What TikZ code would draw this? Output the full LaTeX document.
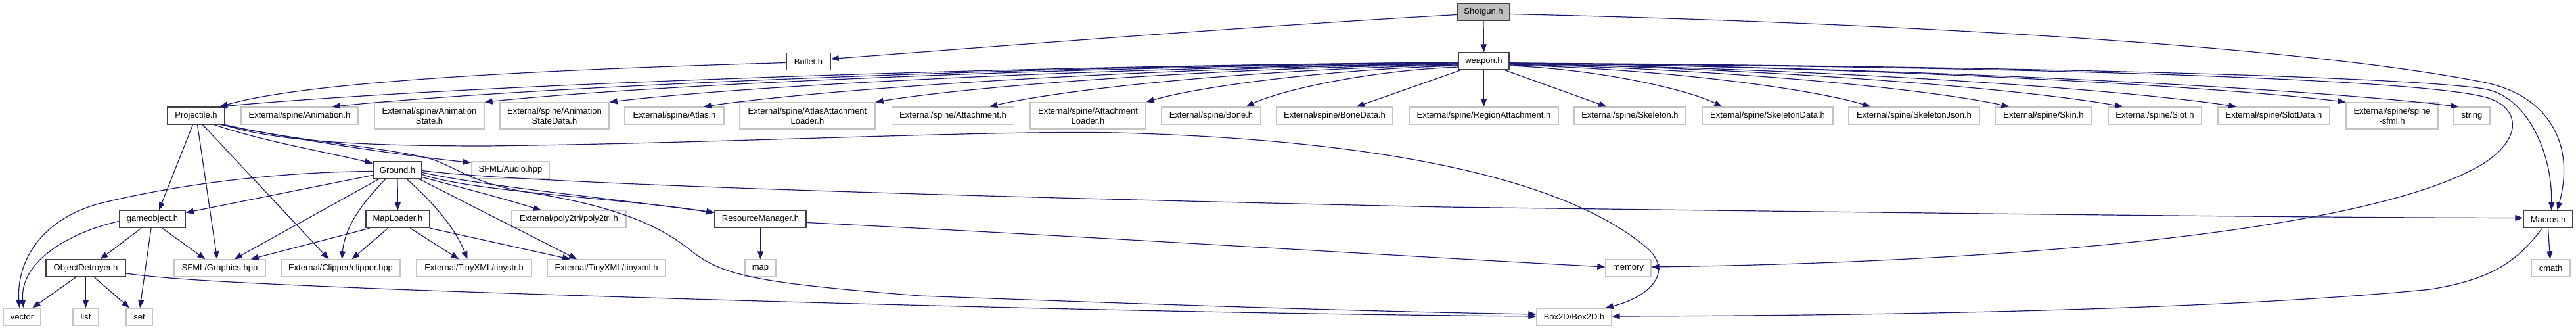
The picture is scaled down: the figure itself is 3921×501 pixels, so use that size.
\documentclass[tikz,border=0pt]{standalone}
\usepackage{fontspec}
\setmainfont{Liberation Sans}
\usetikzlibrary{arrows.meta}
\definecolor{edgeblue}{HTML}{191970}
\definecolor{docborder}{HTML}{404040}
\definecolor{extborder}{HTML}{C4C4C4}
\definecolor{rootfill}{HTML}{BFBFBF}
\tikzset{
  box/.style={rectangle, inner sep=0pt, font=\fontsize{13}{15}\selectfont, align=center, minimum height=26pt, line width=1.4pt},
  doc/.style={box, draw=docborder, fill=white},
  ext/.style={box, draw=extborder, fill=white},
  two/.style={minimum height=40pt},
  dep/.style={draw=edgeblue, line width=1.2pt, -{Triangle[length=12pt,width=9pt]}},
}
\begin{document}
\begin{tikzpicture}[x=1pt,y=-1pt]
\useasboundingbox (0,0) rectangle (3921,501);
% row 0
\node[doc, fill=rootfill, minimum width=80pt] (Shotgun) at (2258,18.5) {Shotgun.h};
% row 1
\node[doc, minimum width=67pt] (Bullet) at (1230.5,93.5) {Bullet.h};
\node[doc, minimum width=77pt] (weapon) at (2258.5,93) {weapon.h};
% row 2
\node[doc, minimum width=87pt] (Projectile) at (298.5,176) {Projectile.h};
\node[ext, minimum width=178pt] (Anim) at (456,176) {External/spine/Animation.h};
\node[ext, two, minimum width=167pt] (AnimState) at (653.5,176) {External/spine/Animation\\State.h};
\node[ext, two, minimum width=166pt] (AnimStateData) at (844,176) {External/spine/Animation\\StateData.h};
\node[ext, minimum width=151pt] (Atlas) at (1026.5,176) {External/spine/Atlas.h};
\node[ext, two, minimum width=206pt] (AtlasAttLoader) at (1229,176) {External/spine/AtlasAttachment\\Loader.h};
\node[ext, minimum width=186pt] (Attachment) at (1450.5,176) {External/spine/Attachment.h};
\node[ext, two, minimum width=176pt] (AttLoader) at (1656,176) {External/spine/Attachment\\Loader.h};
\node[ext, minimum width=151pt] (Bone) at (1843.5,176) {External/spine/Bone.h};
\node[ext, minimum width=177pt] (BoneData) at (2031.5,176) {External/spine/BoneData.h};
\node[ext, minimum width=227pt] (RegionAtt) at (2258.5,176) {External/spine/RegionAttachment.h};
\node[ext, minimum width=170pt] (Skeleton) at (2481,176) {External/spine/Skeleton.h};
\node[ext, minimum width=199pt] (SkeletonData) at (2690.5,176) {External/spine/SkeletonData.h};
\node[ext, minimum width=199pt] (SkeletonJson) at (2913.5,176) {External/spine/SkeletonJson.h};
\node[ext, minimum width=147pt] (Skin) at (3110.5,176) {External/spine/Skin.h};
\node[ext, minimum width=142pt] (Slot) at (3280,176) {External/spine/Slot.h};
\node[ext, minimum width=170pt] (SlotData) at (3461,176) {External/spine/SlotData.h};
\node[ext, two, minimum width=140pt] (spinesfml) at (3641,176) {External/spine/spine\\-sfml.h};
\node[ext, minimum width=55pt] (string) at (3762.5,176) {string};
% row 3
\node[doc, minimum width=74pt] (Ground) at (605,258.5) {Ground.h};
\node[ext, minimum width=119pt] (Audio) at (777,258.5) {SFML/Audio.hpp};
% row 4
\node[doc, minimum width=100pt] (gameobject) at (232,333.5) {gameobject.h};
\node[doc, minimum width=97pt] (MapLoader) at (605.5,333.5) {MapLoader.h};
\node[ext, minimum width=174pt] (poly2tri) at (866,333.5) {External/poly2tri/poly2tri.h};
\node[doc, minimum width=139pt] (ResourceManager) at (1157.5,333.5) {ResourceManager.h};
\node[doc, minimum width=75pt] (Macros) at (3878.5,333.5) {Macros.h};
% row 5
\node[doc, minimum width=121pt] (ObjectDetroyer) at (130.5,408) {ObjectDetroyer.h};
\node[ext, minimum width=139pt] (Graphics) at (334.5,408) {SFML/Graphics.hpp};
\node[ext, minimum width=181pt] (clipper) at (518.5,408) {External/Clipper/clipper.hpp};
\node[ext, minimum width=175pt] (tinystr) at (721.5,408) {External/TinyXML/tinystr.h};
\node[ext, minimum width=180pt] (tinyxml) at (923,408) {External/TinyXML/tinyxml.h};
\node[ext, minimum width=47pt] (map) at (1157.5,408) {map};
\node[ext, minimum width=69pt] (memory) at (2478.5,408) {memory};
\node[ext, minimum width=59pt] (cmath) at (3882.5,408) {cmath};
% row 6
\node[ext, minimum width=57pt] (vector) at (33.5,482) {vector};
\node[ext, minimum width=39pt] (list) at (130.5,482) {list};
\node[ext, minimum width=40pt] (set) at (212,482) {set};
\node[ext, minimum width=114pt] (Box2D) at (2396,482) {Box2D/Box2D.h};

% ---- Shotgun.h
\draw[dep] (Shotgun.south) -- (weapon.north);
\draw[dep] ([yshift=-4pt]Shotgun.west) .. controls (1900,40) and (1500,72) .. ([yshift=4pt]Bullet.east);
\draw[dep] ([yshift=-3pt]Shotgun.east) .. controls (2900,35) and (3500,70) .. (3780,125) .. controls (3880,145) and (3920,220) .. ([xshift=14pt]Macros.north);
% ---- Bullet.h
\draw[dep] ([yshift=-2pt]Bullet.west) .. controls (900,104) and (480,120) .. ([xshift=-8pt]Projectile.north east);
% ---- weapon.h, left fan
\draw[dep] ([yshift=-2pt]weapon.west) .. controls (1371,102) and (616,136) .. ([xshift=-9pt]Projectile.north east);
\draw[dep] ([yshift=-2pt]weapon.west) .. controls (1448,102) and (762,136) .. ([xshift=-40pt]Anim.north east);
\draw[dep] ([yshift=-3pt]weapon.west) .. controls (1553,102) and (959,132) .. (AnimState.north east);
\draw[dep] ([yshift=-4pt]weapon.west) .. controls (1638,103) and (1121,132) .. (AnimStateData.north east);
\draw[dep] ([yshift=-4pt]weapon.west) .. controls (1702,104) and (1243,137) .. ([xshift=-32pt]Atlas.north east);
\draw[dep] ([yshift=-5pt]weapon.west) .. controls (1820,104) and (1465,133) .. (AtlasAttLoader.north east);
\draw[dep] ([yshift=-6pt]weapon.west) .. controls (1898,105) and (1612,137) .. ([xshift=-38pt]Attachment.north east);
\draw[dep] ([yshift=-7pt]weapon.west) .. controls (2006,106) and (1815,134) .. (AttLoader.north east);
\draw[dep] ([yshift=-9pt]weapon.west) .. controls (2074,108) and (1945,139) .. ([xshift=-23pt]Bone.north east);
\draw[dep] ([xshift=4pt]weapon.south west) -- ([xshift=-56pt]BoneData.north east);
\draw[dep] (weapon.south) -- (RegionAtt.north);
% ---- weapon.h, right fan
\draw[dep] ([xshift=-7pt]weapon.south east) -- ([xshift=50pt]Skeleton.north west);
\draw[dep] ([yshift=-7pt]weapon.east) .. controls (2443,106) and (2573,138) .. ([xshift=31pt]SkeletonData.north west);
\draw[dep] ([yshift=-6pt]weapon.east) .. controls (2545,105) and (2765,137) .. ([xshift=34pt]SkeletonJson.north west);
\draw[dep] ([yshift=-5pt]weapon.east) .. controls (2640,105) and (2945,137) .. ([xshift=22pt]Skin.north west);
\draw[dep] ([yshift=-4pt]weapon.east) .. controls (2718,104) and (3092,137) .. ([xshift=23pt]Slot.north west);
\draw[dep] ([yshift=-4pt]weapon.east) .. controls (2796,104) and (3239,137) .. ([xshift=29pt]SlotData.north west);
\draw[dep] ([yshift=-3pt]weapon.east) .. controls (2870,102) and (3380,132) .. (spinesfml.north west);
\draw[dep] ([yshift=-3pt]weapon.east) .. controls (2948,103) and (3526,136) .. ([xshift=8pt]string.north west);
\draw[dep] ([yshift=-3pt]weapon.east) .. controls (3000,100) and (3650,115) .. (3780,135) .. controls (3845,145) and (3885,230) .. ([xshift=5pt]Macros.north);
\draw[dep] ([yshift=-4pt]weapon.east) .. controls (3000,100) and (3700,118) .. (3790,150) .. controls (3840,168) and (3840,220) .. (3760,260) .. controls (3560,360) and (3000,400) .. ([yshift=2pt]memory.east);
% ---- Projectile.h
\draw[dep] ([xshift=-5pt]Projectile.south) -- ([xshift=10pt]gameobject.north);
\draw[dep] ([xshift=2pt]Projectile.south) -- ([xshift=-4pt]Graphics.north);
\draw[dep] ([xshift=10pt]Projectile.south) -- ([xshift=-18pt]clipper.north);
\draw[dep] ([xshift=28pt]Projectile.south) .. controls (400,215) and (500,232) .. ([yshift=10pt]Ground.west);
\draw[dep] ([xshift=-6pt]Projectile.south east) .. controls (450,212) and (600,235) .. ([yshift=11pt]Audio.west);
\draw[dep] ([xshift=-3pt]Projectile.south east) .. controls (420,215) and (550,222) .. (740,222) .. controls (1100,218) and (1500,198) .. (1700,202) .. controls (2200,215) and (2420,300) .. (2510,380) .. controls (2550,420) and (2500,455) .. ([xshift=-10pt]Box2D.north east);
\draw[dep] (Projectile.south east) .. controls (450,215) and (600,225) .. (660,243) .. controls (700,258) and (720,278) .. (800,292) .. controls (930,312) and (1000,340) .. (1050,380) .. controls (1100,420) and (1150,430) .. (1400,450) .. controls (1800,465) and (2100,474) .. ([yshift=4pt]Box2D.west);
% ---- Ground.h
\draw[dep] ([yshift=-2pt]Ground.west) .. controls (400,262) and (250,285) .. (150,310) .. controls (60,335) and (25,400) .. ([xshift=-4pt]vector.north);
\draw[dep] ([yshift=-8pt]Ground.west) -- ([yshift=10pt]gameobject.east);
\draw[dep] ([xshift=-28pt]Ground.south) -- ([xshift=22pt]Graphics.north);
\draw[dep] ([xshift=-18pt]Ground.south) .. controls (560,300) and (525,340) .. ([xshift=2pt]clipper.north);
\draw[dep] (Ground.south) -- (MapLoader.north);
\draw[dep] ([xshift=14pt]Ground.south) .. controls (650,300) and (690,340) .. ([xshift=-10pt]tinystr.north);
\draw[dep] ([xshift=-5pt]Ground.south east) -- ([xshift=-45pt]tinyxml.north);
\draw[dep] ([yshift=-11pt]Ground.east) .. controls (700,285) and (760,300) .. ([xshift=-42pt]poly2tri.north);
\draw[dep] ([yshift=-4pt]Ground.east) .. controls (750,285) and (900,298) .. ([yshift=10pt]ResourceManager.west);
\draw[dep] ([yshift=-7pt]Ground.east) .. controls (720,292) and (950,302) .. ([yshift=10pt]ResourceManager.west);
\draw[dep] ([yshift=-1pt]Ground.east) .. controls (800,280) and (1500,300) .. (2200,315) .. controls (3000,325) and (3500,331) .. ([yshift=2pt]Macros.west);
% ---- gameobject.h
\draw[dep] ([yshift=-3pt]gameobject.west) .. controls (100,355) and (30,400) .. ([xshift=2pt]vector.north);
\draw[dep] ([xshift=-17pt]gameobject.south) -- ([xshift=22pt]ObjectDetroyer.north);
\draw[dep] ([xshift=-2pt]gameobject.south) -- ([xshift=1pt]set.north);
\draw[dep] ([xshift=15pt]gameobject.south) -- ([xshift=-22pt]Graphics.north);
% ---- ObjectDetroyer.h
\draw[dep] ([xshift=-15pt]ObjectDetroyer.south) -- ([xshift=16pt]vector.north);
\draw[dep] (ObjectDetroyer.south) -- (list.north);
\draw[dep] ([xshift=13pt]ObjectDetroyer.south) -- ([xshift=-15pt]set.north);
\draw[dep] ([yshift=-8pt]ObjectDetroyer.east) .. controls (260,425) and (350,430) .. (600,440) .. controls (1200,462) and (1900,478) .. ([yshift=1pt]Box2D.west);
% ---- MapLoader.h
\draw[dep] ([xshift=-43pt]MapLoader.south) -- ([xshift=47pt]Graphics.north);
\draw[dep] ([xshift=-15pt]MapLoader.south) -- ([xshift=17pt]clipper.north);
\draw[dep] ([xshift=19pt]MapLoader.south) -- ([xshift=-23pt]tinystr.north);
\draw[dep] (MapLoader.south east) -- ([xshift=-55pt]tinyxml.north);
% ---- ResourceManager.h
\draw[dep] (ResourceManager.south) -- (map.north);
\draw[dep] ([yshift=-5pt]ResourceManager.east) .. controls (1700,362) and (2100,388) .. ([yshift=2pt]memory.west);
% ---- Macros.h
\draw[dep] (Macros.south) -- ([xshift=-1pt]cmath.north);
\draw[dep] ([xshift=-9pt]Macros.south) .. controls (3830,400) and (3790,425) .. (3700,440) .. controls (3400,470) and (2900,480) .. ([yshift=1pt]Box2D.east);
\end{tikzpicture}
\end{document}
